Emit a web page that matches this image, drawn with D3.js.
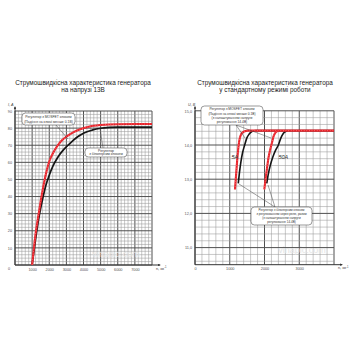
<!DOCTYPE html>
<html><head><meta charset="utf-8">
<script src="https://cdn.jsdelivr.net/npm/d3@7"></script>
<style>
body{margin:0;background:#fff}
svg{display:block}
text{font-family:"Liberation Sans",Arial,sans-serif}
</style>
</head><body>
<svg id="c" width="350" height="350"></svg>
<script>
// ---------- DATA ----------
const leftTitle = ["Струмошвидкісна характеристика генератора", "на напрузі 13В"];
const rightTitle = ["Струмошвидкісна характеристика генератора", "у стандартному режимі роботи"];

const leftRpmTicks = [1000, 2000, 3000, 4000, 5000, 6000, 7000];
const leftAmpTicks = [10, 20, 30, 40, 50, 60, 70, 80, 90];
const leftMosfetRpm  = [1000, 1200, 1400, 1600, 1800, 2000, 2200, 2400, 2700, 3000, 3400, 3800, 4300, 5000, 6000, 8000];
const leftMosfetAmps = [0, 18, 31, 43, 53, 60.5, 65, 68.5, 72.5, 75, 77.5, 79.3, 80.8, 81.8, 82.3, 82.4];
const leftBipolarRpm  = [1000, 1200, 1400, 1600, 1800, 2000, 2200, 2500, 2800, 3200, 3600, 4000, 4500, 5000, 5500, 6000, 8000];
const leftBipolarAmps = [0, 15, 28, 38, 46.5, 52.5, 57.5, 63, 67, 71, 74.5, 77, 78.8, 79.9, 80.4, 80.6, 80.6];

const rightRpmTicks = [0, 1000, 2000, 3000];
const rightVoltTicks = [11, 12, 13, 14, 15];
const rightVoltLabels = ["11,0", "12,0", "13,0", "14,0", "15,0"];
const mosfet5Rpm  = [1150, 1180, 1210, 1240, 1270, 1310, 1360, 1430, 1520, 1650, 4000];
const mosfet5Volt = [12.70, 13.10, 13.50, 13.85, 14.10, 14.27, 14.36, 14.40, 14.42, 14.42, 14.42];
const bipolar5Rpm  = [1245, 1280, 1320, 1370, 1430, 1490, 1560, 1650, 1750, 4000];
const bipolar5Volt = [12.88, 13.20, 13.50, 13.78, 14.00, 14.20, 14.32, 14.40, 14.42, 14.42];
const mosfet50Rpm  = [1995, 2030, 2070, 2110, 2160, 2210, 2260, 2320, 2400];
const mosfet50Volt = [12.70, 13.00, 13.30, 13.60, 13.85, 14.05, 14.25, 14.37, 14.42];
const bipolar50Rpm  = [2065, 2110, 2170, 2240, 2320, 2400, 2470, 2550, 2650];
const bipolar50Volt = [12.88, 13.15, 13.42, 13.65, 13.85, 14.00, 14.20, 14.35, 14.42];

const leftNote1 = ["Регулятор з MOSFET ключем", "(Падіння на ключі менше 0.1В)"];
const leftNote2 = ["Регулятор", "з біполярним ключем"];
const rightNote1 = ["Регулятор з MOSFET ключем", "(Падіння на ключі менше 0.1В)", "(з налаштуванням напруги", "регулювання 14.4В)"];
const rightNote2 = ["Регулятор з біполярним ключем", "з регулюванням через реле, разом", "(з налаштуванням напруги", "регулювання 14.4В)"];
const curveLabels = ["5A", "50A"];
const watermark = "vinapic.com";

// ---------- DRAW ----------
const svg = d3.select("#c");
const RED = "#e8232b", BLACK = "#151515";

function grid(g, x, y, xMinorStep, yMinorStep, xMajorStep, yMajorStep) {
  const [x0, x1] = x.domain(), [y0, y1] = y.domain();
  const eps = 1e-6;
  const xs = d3.range(x0, x1 + eps, xMinorStep);
  const ys = d3.range(Math.ceil(y0 / yMinorStep - eps) * yMinorStep, y1 + eps, yMinorStep);
  const isMaj = (v, s) => Math.abs(v / s - Math.round(v / s)) < 1e-4;
  g.selectAll(".vx").data(xs).join("line")
    .attr("x1", d => x(d)).attr("x2", d => x(d))
    .attr("y1", y.range()[0]).attr("y2", y.range()[1])
    .attr("stroke", d => isMaj(d, xMajorStep) ? "#505050" : "#9a9a9a")
    .attr("stroke-width", d => isMaj(d, xMajorStep) ? 1 : 0.55);
  g.selectAll(".hy").data(ys).join("line")
    .attr("y1", d => y(d)).attr("y2", d => y(d))
    .attr("x1", x.range()[0]).attr("x2", x.range()[1])
    .attr("stroke", d => isMaj(d, yMajorStep) ? "#505050" : "#9a9a9a")
    .attr("stroke-width", d => isMaj(d, yMajorStep) ? 1 : 0.55);
}

function title(lines, cx) {
  svg.append("text").attr("x", cx).attr("y", 84.5).attr("text-anchor", "middle")
    .attr("font-size", 6.4).attr("fill", "#222").text(lines[0]);
  svg.append("text").attr("x", cx).attr("y", 91.5).attr("text-anchor", "middle")
    .attr("font-size", 6.4).attr("fill", "#222").text(lines[1]);
}

function axisArrows(x, y, xLab, yLab) {
  const xr = x.range(), yr = y.range();
  const g = svg.append("g");
  g.append("line").attr("x1", xr[0]).attr("x2", xr[1] + 8).attr("y1", yr[0]).attr("y2", yr[0])
    .attr("stroke", "#333").attr("stroke-width", 1);
  g.append("path").attr("d", `M${xr[1] + 9},${yr[0]} l-3,-1.1 v2.2 z`).attr("fill", "#333");
  g.append("line").attr("x1", xr[0]).attr("x2", xr[0]).attr("y1", yr[0]).attr("y2", yr[1] - 4)
    .attr("stroke", "#333").attr("stroke-width", 1);
  g.append("path").attr("d", `M${xr[0]},${yr[1] - 5} l-1.1,3 h2.2 z`).attr("fill", "#333");
  const xl = g.append("text").attr("x", xr[1] + 4).attr("y", yr[0] + 4.5).attr("font-size", 3.8).attr("fill", "#444");
  xl.append("tspan").text(xLab);
  xl.append("tspan").attr("dy", -1.5).attr("font-size", 2.6).text("-1");
  g.append("text").attr("x", xr[0] - 7).attr("y", yr[1] - 5).attr("font-size", 3.8).attr("fill", "#444")
    .attr("font-style", "italic").text(yLab);
}

function ticks(x, y, xVals, yVals, yFmt) {
  const gx = svg.append("g").attr("transform", `translate(0,${y.range()[0]})`)
    .call(d3.axisBottom(x).tickValues(xVals).tickSize(0).tickPadding(3).tickFormat(d3.format("d")));
  gx.select(".domain").remove();
  gx.selectAll("text").attr("font-size", 3.8).attr("fill", "#555").attr("font-family", '"Liberation Sans",Arial,sans-serif');
  const gy = svg.append("g").attr("transform", `translate(${x.range()[0]},0)`)
    .call(d3.axisLeft(y).tickValues(yVals).tickSize(0).tickPadding(3).tickFormat(yFmt));
  gy.select(".domain").remove();
  gy.selectAll("text").attr("font-size", 3.8).attr("fill", "#555").attr("font-family", '"Liberation Sans",Arial,sans-serif');
}

function note(lines, x0, y0, w, h, fs) {
  const g = svg.append("g");
  g.append("rect").attr("x", x0).attr("y", y0).attr("width", w).attr("height", h).attr("rx", 3.5)
    .attr("fill", "#fff").attr("stroke", "#555").attr("stroke-width", 0.6);
  lines.forEach((t, i) => {
    g.append("text").attr("x", x0 + w / 2).attr("y", y0 + 1 + (h - 2) / lines.length * (i + 0.5) + fs * 0.35)
      .attr("text-anchor", "middle").attr("font-size", fs).attr("fill", "#333").text(t);
  });
}
function leader(x1, y1, x2, y2) {
  svg.append("line").attr("x1", x1).attr("y1", y1).attr("x2", x2).attr("y2", y2)
    .attr("stroke", "#444").attr("stroke-width", 0.5);
}

function drawSeries(x, y, xs, ys, color, w, dashed) {
  const line = d3.line().x(d => x(d[0])).y(d => y(d[1])).curve(d3.curveMonotoneX);
  const pts = xs.map((v, i) => [v, ys[i]]);
  svg.append("path").attr("d", line(pts)).attr("fill", "none").attr("stroke", color).attr("stroke-width", w);
  if (dashed) {
    svg.append("path").attr("d", line(pts)).attr("fill", "none").attr("stroke", "#ff8a8a")
      .attr("stroke-width", w * 0.35).attr("stroke-dasharray", "0.8,1.8");
  }
}

// ===== LEFT CHART =====
{
  const x = d3.scaleLinear().domain([0, 8000]).range([15, 152]);
  const y = d3.scaleLinear().domain([0, 90]).range([265, 111]);
  title(leftTitle, 83);
  grid(svg.append("g"), x, y, 200, 2, 1000, 10);
  svg.append("text").attr("x", 116).attr("y", 257).attr("text-anchor", "middle").attr("font-size", 9)
    .attr("fill", "#e4e4e4").text(watermark);
  axisArrows(x, y, "n, хв", "I, A");
  ticks(x, y, leftRpmTicks, leftAmpTicks, d3.format("d"));
  svg.append("text").attr("x", 9).attr("y", 269.5).attr("text-anchor", "middle").attr("font-size", 3.8).attr("fill", "#555").text("0");
  drawSeries(x, y, leftBipolarRpm, leftBipolarAmps, BLACK, 1.7, false);
  drawSeries(x, y, leftMosfetRpm, leftMosfetAmps, RED, 2.1, true);
  leader(56, 125, 68, 139);
  leader(103, 148, 100, 128.5);
  note(leftNote1, 22, 113, 53, 12, 3.4);
  note(leftNote2, 85, 148, 42, 9, 3.4);
}

// ===== RIGHT CHART =====
{
  const x = d3.scaleLinear().domain([0, 4000]).range([195, 334]);
  const y = d3.scaleLinear().domain([10.5, 15]).range([264.7, 110.8]);
  title(rightTitle, 265);
  grid(svg.append("g"), x, y, 200, 0.2, 1000, 1);
  svg.append("text").attr("x", 302).attr("y", 253).attr("text-anchor", "middle").attr("font-size", 9)
    .attr("fill", "#e4e4e4").text(watermark);
  axisArrows(x, y, "n, хв", "U, В");
  ticks(x, y, rightRpmTicks, rightVoltTicks, (d, i) => rightVoltLabels[i]);
  drawSeries(x, y, bipolar5Rpm, bipolar5Volt, BLACK, 1.6, false);
  drawSeries(x, y, bipolar50Rpm, bipolar50Volt, BLACK, 1.6, false);
  drawSeries(x, y, mosfet5Rpm, mosfet5Volt, RED, 2.1, true);
  drawSeries(x, y, mosfet50Rpm, mosfet50Volt, RED, 2.1, true);
  svg.append("text").attr("x", x(1050)).attr("y", y(13.6)).attr("font-size", 5.5).attr("fill", "#333").attr("font-style", "italic").text(curveLabels[0]);
  svg.append("text").attr("x", x(2400)).attr("y", y(13.6)).attr("font-size", 5.5).attr("fill", "#333").attr("font-style", "italic").text(curveLabels[1]);
  leader(236, 125, 245, 138);
  leader(236, 125, 271, 138);
  leader(275, 207, 239, 184);
  leader(275, 207, 268, 185);
  note(rightNote1, 201, 106, 62, 19, 3.3);
  note(rightNote2, 251, 207, 61, 18, 3.1);
}
</script>
</body></html>
